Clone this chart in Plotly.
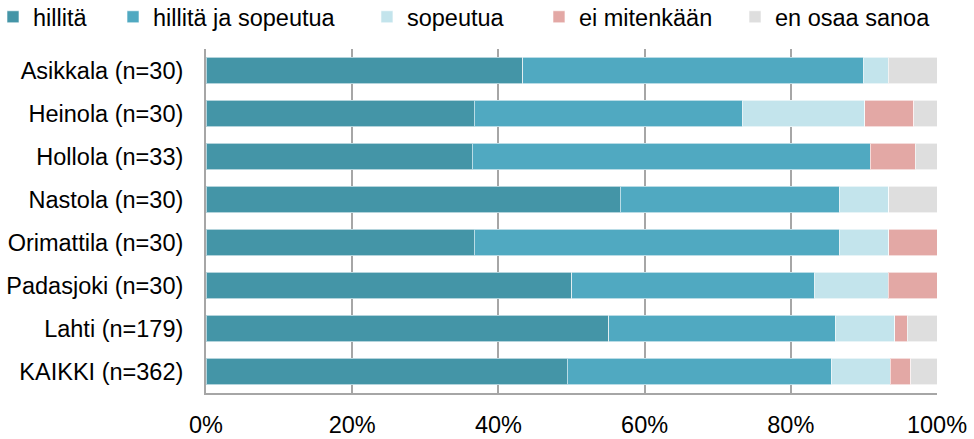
import plotly.graph_objects as go

categories = [
    "Asikkala (n=30)",
    "Heinola (n=30)",
    "Hollola (n=33)",
    "Nastola (n=30)",
    "Orimattila (n=30)",
    "Padasjoki (n=30)",
    "Lahti (n=179)",
    "KAIKKI (n=362)",
]
series_names = ["hillitä", "hillitä ja sopeutua", "sopeutua", "ei mitenkään", "en osaa sanoa"]

hillita = [43.3, 36.7, 36.4, 56.7, 36.7, 50.0, 55.1, 49.4]
hillita_ja_sopeutua = [46.7, 36.7, 54.5, 30.0, 50.0, 33.3, 31.0, 36.1]
sopeutua = [3.3, 16.7, 0.0, 6.7, 6.7, 10.0, 8.1, 8.1]
ei_mitenkaan = [0.0, 6.7, 6.1, 0.0, 6.7, 6.7, 1.7, 2.8]
en_osaa = [6.7, 3.3, 3.0, 6.7, 0.0, 0.0, 4.1, 3.6]

colors = ["#4495a7", "#50a9c1", "#c3e4ec", "#e3a8a5", "#dedede"]

# one small legend per series so every entry sits where the original has it
legend_x = [-0.2914, -0.1272, 0.2202, 0.4555, 0.7237]

fig = go.Figure()
for i, (name, vals, col) in enumerate(
    zip(series_names, [hillita, hillita_ja_sopeutua, sopeutua, ei_mitenkaan, en_osaa], colors)
):
    fig.add_trace(
        go.Bar(
            y=categories,
            x=vals,
            name=name,
            orientation="h",
            marker=dict(color=col, line=dict(color="rgba(255,255,255,0.6)", width=1)),
            width=0.62,
            legend="legend" if i == 0 else f"legend{i + 1}",
        )
    )

legends = {}
for i, lx in enumerate(legend_x):
    key = "legend" if i == 0 else f"legend{i + 1}"
    legends[key] = dict(
        orientation="h",
        xref="paper",
        yref="paper",
        x=lx,
        y=1.157,
        xanchor="left",
        yanchor="top",
        itemwidth=30,
        bgcolor="rgba(0,0,0,0)",
        font=dict(size=23.5),
    )

fig.update_layout(
    barmode="stack",
    showlegend=True,
    width=974,
    height=439,
    margin=dict(l=206, r=37, t=49, b=46, autoexpand=False),
    plot_bgcolor="white",
    paper_bgcolor="white",
    font=dict(family="Liberation Sans, Arial, sans-serif", size=23.5, color="#000000"),
    **legends,
)
fig.update_xaxes(
    range=[0, 100],
    tickvals=[0, 20, 40, 60, 80, 100],
    ticktext=["0%", "20%", "40%", "60%", "80%", "100%"],
    showgrid=True,
    gridcolor="#a6a6a6",
    gridwidth=2,
    showline=True,
    linecolor="#a6a6a6",
    linewidth=2,
    zeroline=False,
    ticks="",
    ticklabelstandoff=10,
)
fig.update_yaxes(
    categoryorder="array",
    categoryarray=categories[::-1],
    showline=True,
    linecolor="#a6a6a6",
    linewidth=2,
    ticks="",
    ticklabelstandoff=16,
)

fig.write_html(
    "out.html",
    config={"displayModeBar": False},
    post_script="document.body.style.margin='0';",
)
